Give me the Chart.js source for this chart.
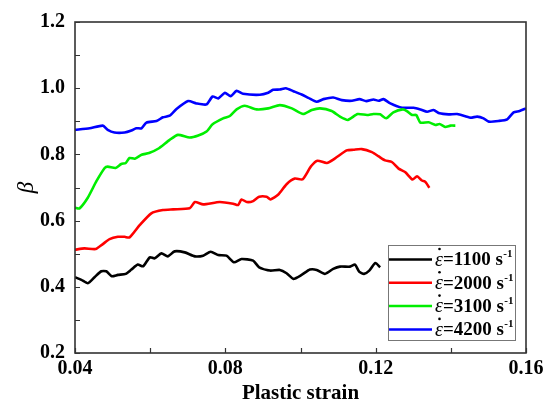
<!DOCTYPE html>
<html>
<head>
<meta charset="utf-8">
<script src="https://cdn.jsdelivr.net/npm/chart.js@4/dist/chart.umd.min.js"></script>
<style>
  body { margin: 0; background: #fff; }
</style>
</head>
<body>
<canvas id="myChart" width="552" height="406"></canvas>
<script>
// strain rates for the legend
var rates = [1100, 2000, 3100, 4200];
var lineColors = ['#000000', '#ff0000', '#00ee00', '#0000ff'];

// plastic strain / beta
var blackX = [0.040,0.0417,0.0434,0.0452,0.0470,0.0483,0.0498,0.0514,0.0535,0.0550,0.0567,0.0581,0.0599,0.0612,0.0630,0.0647,0.0665,0.0692,0.0719,0.0741,0.0761,0.0781,0.0803,0.0823,0.0843,0.0874,0.0890,0.0919,0.0945,0.0963,0.0981,0.1003,0.1025,0.1043,0.1065,0.1087,0.1105,0.1132,0.1145,0.1156,0.1169,0.1183,0.1199,0.1212];
var blackY = [0.429,0.421,0.411,0.429,0.447,0.447,0.432,0.436,0.439,0.452,0.467,0.462,0.489,0.486,0.501,0.492,0.507,0.504,0.492,0.494,0.506,0.496,0.494,0.474,0.484,0.479,0.459,0.449,0.451,0.441,0.424,0.436,0.452,0.451,0.439,0.454,0.461,0.461,0.467,0.446,0.439,0.449,0.472,0.459];

var redX = [0.040,0.0425,0.0455,0.0474,0.0492,0.0514,0.0532,0.0545,0.0572,0.0603,0.0634,0.0661,0.0705,0.0719,0.0741,0.0785,0.0821,0.0834,0.0843,0.0857,0.0874,0.0890,0.0910,0.0920,0.0941,0.0963,0.0985,0.1006,0.1028,0.1045,0.1070,0.1092,0.1123,0.1141,0.1163,0.1190,0.1208,0.1225,0.1243,0.1261,0.1279,0.1298,0.1310,0.1323,0.1332,0.1343];
var redY = [0.512,0.516,0.514,0.529,0.544,0.551,0.551,0.549,0.586,0.622,0.632,0.634,0.637,0.656,0.649,0.656,0.651,0.647,0.664,0.656,0.659,0.672,0.672,0.664,0.679,0.710,0.727,0.725,0.764,0.781,0.774,0.788,0.812,0.814,0.816,0.807,0.794,0.782,0.777,0.757,0.746,0.724,0.734,0.721,0.717,0.699];

var greenX = [0.040,0.0412,0.0434,0.0457,0.0479,0.0487,0.0508,0.0523,0.0535,0.0545,0.0559,0.0577,0.0597,0.0621,0.0652,0.0674,0.0705,0.0728,0.0750,0.0766,0.0794,0.0812,0.0830,0.0852,0.0883,0.0914,0.0945,0.0977,0.1007,0.1030,0.1052,0.1083,0.1105,0.1126,0.1152,0.1177,0.1194,0.1212,0.1228,0.1247,0.1272,0.1283,0.1297,0.1308,0.1319,0.1341,0.1359,0.1370,0.1385,0.1399,0.1412];
var greenY = [0.639,0.637,0.669,0.719,0.759,0.763,0.759,0.771,0.774,0.789,0.787,0.799,0.804,0.817,0.844,0.859,0.851,0.857,0.869,0.891,0.909,0.916,0.936,0.947,0.936,0.939,0.949,0.939,0.922,0.934,0.939,0.931,0.914,0.904,0.922,0.919,0.922,0.921,0.909,0.927,0.936,0.931,0.919,0.919,0.896,0.897,0.889,0.892,0.883,0.887,0.887];

var blueX = [0.040,0.0439,0.0474,0.0487,0.0505,0.0532,0.0550,0.0563,0.0577,0.0590,0.0617,0.0634,0.0652,0.0670,0.0701,0.0723,0.0750,0.0766,0.0781,0.0799,0.0814,0.0830,0.0847,0.0892,0.0914,0.0927,0.0945,0.0961,0.0981,0.1003,0.1021,0.1043,0.1061,0.1087,0.1110,0.1137,0.1157,0.1175,0.1194,0.1208,0.1221,0.1239,0.1270,0.1301,0.1319,0.1337,0.1354,0.1370,0.1394,0.1417,0.1452,0.1470,0.1487,0.1501,0.1527,0.1550,0.1567,0.1583,0.1600];
var blueY = [0.874,0.879,0.887,0.874,0.866,0.866,0.872,0.879,0.879,0.896,0.901,0.912,0.917,0.937,0.961,0.954,0.951,0.975,0.969,0.986,0.976,0.992,0.983,0.980,0.986,0.995,0.996,1.000,0.991,0.981,0.971,0.959,0.967,0.972,0.964,0.962,0.967,0.961,0.966,0.962,0.967,0.954,0.941,0.941,0.936,0.929,0.934,0.924,0.921,0.922,0.911,0.914,0.909,0.899,0.901,0.906,0.927,0.931,0.939];

var xMajor = [0.04, 0.08, 0.12, 0.16];
var yMajor = [0.2, 0.4, 0.6, 0.8, 1.0, 1.2];

function pts(xs, ys) {
    var out = [];
    for (var i = 0; i < Math.min(xs.length, ys.length); i++) out.push({ x: xs[i], y: ys[i] });
    return out;
}

var series = [pts(blackX, blackY), pts(redX, redY), pts(greenX, greenY), pts(blueX, blueY)];
var serif = "'Liberation Serif', 'Times New Roman', serif";

function isMajor(v, list) {
    return list.some(function (m) { return Math.abs(m - v) < 1e-6; });
}

// frame plus inward tick marks (major and minor)
var framePlugin = {
    id: 'frame',
    afterDraw: function (chart) {
        var ctx = chart.ctx, a = chart.chartArea, x = chart.scales.x, y = chart.scales.y;
        ctx.save();
        ctx.strokeStyle = '#333';
        ctx.lineWidth = 1.6;
        ctx.strokeRect(a.left, a.top, a.right - a.left, a.bottom - a.top);
        ctx.lineWidth = 1.2;
        ctx.beginPath();
        x.ticks.forEach(function (t) {
            var px = Math.round(x.getPixelForValue(t.value)) + 0.5;
            ctx.moveTo(px, a.bottom);
            ctx.lineTo(px, a.bottom - 5);
        });
        y.ticks.forEach(function (t) {
            var py = Math.round(y.getPixelForValue(t.value)) + 0.5;
            ctx.moveTo(a.left, py);
            ctx.lineTo(a.left + 5, py);
        });
        ctx.stroke();
        ctx.restore();
    }
};

// boxed legend in the lower right corner of the plot
var legendPlugin = {
    id: 'boxLegend',
    afterDraw: function (chart) {
        var ctx = chart.ctx, a = chart.chartArea;
        var w = 127, h = 95;
        var left = a.right - 11 - w, top = a.bottom - 13 - h;
        ctx.save();
        ctx.fillStyle = '#fff';
        ctx.fillRect(left, top, w, h);
        ctx.strokeStyle = '#777';
        ctx.lineWidth = 1;
        ctx.strokeRect(left + 0.5, top + 0.5, w, h);
        chart.data.datasets.forEach(function (ds, i) {
            var ry = top + 14.5 + i * 23.3;
            ctx.strokeStyle = ds.borderColor;
            ctx.lineWidth = 2.5;
            ctx.beginPath();
            ctx.moveTo(left + 1, ry);
            ctx.lineTo(left + 44, ry);
            ctx.stroke();
            var tx = left + 47;
            ctx.fillStyle = '#000';
            ctx.textBaseline = 'middle';
            ctx.font = 'italic 20px ' + serif;
            ctx.fillText('\u03b5', tx, ry + 1);
            ctx.beginPath();
            ctx.arc(tx + 4.5, ry - 10.5, 1.3, 0, Math.PI * 2);
            ctx.fill();
            tx += ctx.measureText('\u03b5').width;
            ctx.font = 'bold 19px ' + serif;
            var main = '=' + rates[i] + ' s';
            ctx.fillText(main, tx, ry + 1);
            tx += ctx.measureText(main).width + 0.5;
            ctx.font = 'bold 11px ' + serif;
            ctx.fillText('-1', tx, ry - 5);
        });
        ctx.restore();
    }
};

var ctx = document.getElementById('myChart').getContext('2d');
var chart = new Chart(ctx, {
    type: 'line',
    data: {
        datasets: series.map(function (d, i) {
            return {
                label: '\u03b5\u0307=' + rates[i] + ' s\u207b\u00b9',
                data: d,
                borderColor: lineColors[i],
                borderWidth: 2.6,
                pointRadius: 0,
                tension: 0.2,
                fill: false
            };
        })
    },
    options: {
        responsive: false,
        animation: false,
        layout: { padding: { top: 20, right: 26, left: 0, bottom: 0 } },
        plugins: {
            legend: { display: false },
            tooltip: { enabled: false }
        },
        scales: {
            x: {
                type: 'linear',
                min: 0.04,
                max: 0.16,
                afterFit: function (s) { s.height = 53; },
                grid: { display: false, drawTicks: false },
                border: { display: false },
                ticks: {
                    stepSize: 0.02,
                    autoSkip: false,
                    maxRotation: 0,
                    padding: 4,
                    color: '#000',
                    font: { family: serif, size: 20, weight: 'bold' },
                    callback: function (v) { return isMajor(v, xMajor) ? v.toFixed(2) : ''; }
                },
                title: {
                    display: true,
                    text: 'Plastic strain',
                    color: '#000',
                    font: { family: serif, size: 21, weight: 'bold', lineHeight: 1.2 },
                    padding: { top: 0, bottom: 0 }
                }
            },
            y: {
                min: 0.2,
                max: 1.2,
                afterFit: function (s) { s.width = 75; },
                grid: { display: false, drawTicks: false },
                border: { display: false },
                ticks: {
                    stepSize: 0.1,
                    autoSkip: false,
                    padding: 10,
                    color: '#000',
                    font: { family: serif, size: 20, weight: 'bold' },
                    callback: function (v) { return isMajor(v, yMajor) ? v.toFixed(1) : ''; }
                },
                title: {
                    display: true,
                    text: '\u03b2',
                    color: '#000',
                    font: { family: serif, size: 23, style: 'italic', lineHeight: 1.0 },
                    padding: { top: 15, bottom: 0 }
                }
            }
        }
    },
    plugins: [framePlugin, legendPlugin]
});
</script>
</body>
</html>
